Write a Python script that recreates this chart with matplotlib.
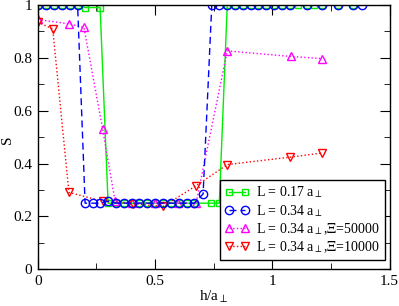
import matplotlib
matplotlib.use('Agg')
import matplotlib.pyplot as plt

plt.rcParams['font.family'] = ['Liberation Serif', 'DejaVu Serif']
plt.rcParams['mathtext.fontset'] = 'stix'

# L = 0.17 a_perp
h_017 = [0.0, 0.034, 0.068, 0.102, 0.136, 0.17, 0.202, 0.266,
         0.30, 0.334, 0.368, 0.401, 0.433, 0.467, 0.50, 0.535, 0.568, 0.602, 0.635, 0.668, 0.739, 0.774,
         0.808, 0.841, 0.874, 0.909, 0.94, 0.973, 1.007, 1.04, 1.076, 1.108, 1.147, 1.179, 1.211, 1.281, 1.345]
S_017 = [1.0, 1.0, 1.0, 1.0, 1.0, 1.0, 0.99, 0.99,
         0.25, 0.25, 0.25, 0.25, 0.25, 0.25, 0.25, 0.25, 0.25, 0.25, 0.25, 0.25, 0.25, 0.25,
         1.0, 1.0, 1.0, 1.0, 1.0, 1.0, 1.0, 1.0, 1.0, 1.0, 1.0, 1.0, 1.0, 1.0, 1.0]

# L = 0.34 a_perp
h_034 = [0.0, 0.034, 0.068, 0.102, 0.136, 0.17,
         0.202, 0.234, 0.266, 0.301, 0.334, 0.368, 0.401, 0.433, 0.467, 0.50, 0.535, 0.568, 0.602, 0.635, 0.668,
         0.705,
         0.742, 0.774, 0.808, 0.841, 0.874, 0.909, 0.94, 0.973, 1.007, 1.04, 1.076, 1.147, 1.211, 1.281, 1.345, 1.381]
S_034 = [1.0, 1.0, 1.0, 1.0, 1.0, 1.0,
         0.25, 0.25, 0.25, 0.258, 0.25, 0.25, 0.25, 0.25, 0.25, 0.25, 0.25, 0.25, 0.25, 0.25, 0.25,
         0.285,
         1.0, 1.0, 1.0, 1.0, 1.0, 1.0, 1.0, 1.0, 1.0, 1.0, 1.0, 1.0, 1.0, 1.0, 1.0, 1.0]

# L = 0.34 a_perp, Xi = 50000
h_xi5 = [0.0, 0.135, 0.197, 0.277, 0.33, 0.40, 0.50, 0.60, 0.675, 0.808, 1.078, 1.21]
S_xi5 = [0.945, 0.928, 0.915, 0.529, 0.257, 0.25, 0.25, 0.25, 0.25, 0.826, 0.805, 0.797]

# L = 0.34 a_perp, Xi = 10000
h_xi1 = [0.0, 0.064, 0.133, 0.277, 0.405, 0.535, 0.675, 0.808, 1.075, 1.213]
S_xi1 = [0.935, 0.909, 0.291, 0.257, 0.248, 0.238, 0.316, 0.396, 0.424, 0.44]

fig = plt.figure(figsize=(3.99, 3.06), dpi=100)
ax = fig.add_axes([0.0945, 0.12, 0.882, 0.864])

ax.plot(h_017, S_017, color='#00ee00', lw=1, ls='-', marker='s', ms=4.5, mfc='none', mew=1,
        label=r'L = 0.17 a$_\perp$')
ax.plot(h_xi5, S_xi5, color='#ff00ff', lw=1, ls=':', marker='^', ms=6, mfc='none', mew=1,
        label=r'L = 0.34 a$_\perp$,$\Xi$=50000')
ax.plot(h_xi1, S_xi1, color='#ff0000', lw=1, ls=':', marker='v', ms=6, mfc='none', mew=1,
        label=r'L = 0.34 a$_\perp$,$\Xi$=10000')
ax.plot(h_034, S_034, color='#0000ff', lw=1, ls=(0, (5, 3)), marker='o', ms=6, mfc='none', mew=1,
        label=r'L = 0.34 a$_\perp$')

ax.set_xlim(0, 1.5)
ax.set_ylim(0, 1)
ax.set_xticks([0, 0.5, 1, 1.5])
ax.set_xticklabels(['0', '0.5', '1', '1.5'])
ax.set_xticks([0.25, 0.75, 1.25], minor=True)
ax.set_yticks([0, 0.2, 0.4, 0.6, 0.8, 1])
ax.set_yticklabels(['0', '0.2', '0.4', '0.6', '0.8', '1'])
ax.set_yticks([0.1, 0.3, 0.5, 0.7, 0.9], minor=True)
ax.tick_params(which='both', direction='in', top=True, right=True, labelsize=11, pad=4)
ax.tick_params(which='major', length=7)
ax.tick_params(which='minor', length=4)
for s in ax.spines.values():
    s.set_linewidth(1)

ax.set_xlabel(r'h/a$_\perp$', fontsize=11)
ax.xaxis.set_label_coords(0.5, -0.075)
ax.set_ylabel('S', fontsize=11)
ax.yaxis.set_label_coords(-0.068, 0.49)

handles, labels = ax.get_legend_handles_labels()
order = [0, 3, 1, 2]
leg = ax.legend([handles[i] for i in order], [labels[i] for i in order],
                loc='lower right', bbox_to_anchor=(0.995, 0.025), fontsize=10,
                numpoints=2, handlelength=1.8, handletextpad=0.5, labelspacing=0.18,
                borderpad=0.35, borderaxespad=0.2, fancybox=False, framealpha=1, edgecolor='black')
leg.get_frame().set_linewidth(1)

plt.savefig('out.png', dpi=100)
